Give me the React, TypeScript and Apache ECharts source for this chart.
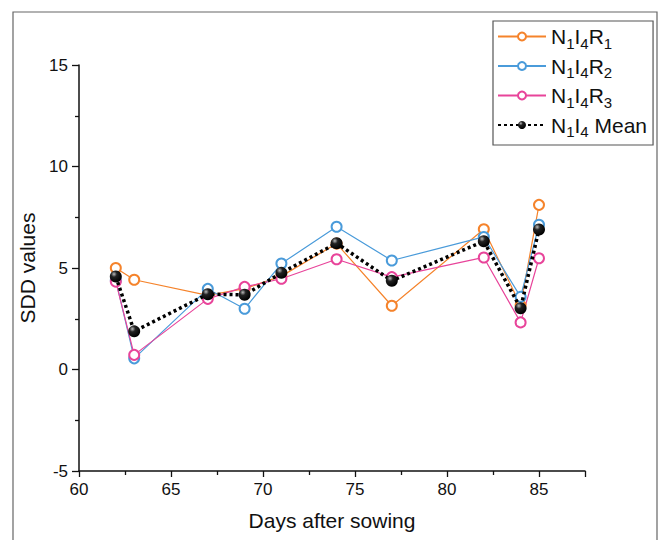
import React, { useEffect, useRef } from "react";
import * as echarts from "echarts";

const days = [62, 63, 67, 69, 71, 74, 77, 82, 84, 85];
const r1 = [5.0, 4.42, 3.65, 3.98, 4.6, 6.2, 3.14, 6.91, 3.16, 8.11];
const r2 = [4.4, 0.55, 3.97, 2.99, 5.22, 7.03, 5.37, 6.53, 3.58, 7.13];
const r3 = [4.33, 0.72, 3.48, 4.07, 4.47, 5.43, 4.55, 5.52, 2.32, 5.48];
const mean = [4.58, 1.88, 3.71, 3.68, 4.76, 6.22, 4.37, 6.32, 3.02, 6.9];
const seriesNames = ["N1I4R1", "N1I4R2", "N1I4R3", "N1I4 Mean"];
const legendRich = [
  "N{s|1}I{s|4}R{s|1}",
  "N{s|1}I{s|4}R{s|2}",
  "N{s|1}I{s|4}R{s|3}",
  "N{s|1}I{s|4} Mean",
];

const pairs = (ys: number[]) => days.map((d, i) => [d, ys[i]]);

export default function App() {
  const ref = useRef<HTMLDivElement>(null);
  useEffect(() => {
    const chart = echarts.init(ref.current!, undefined, { renderer: "svg" });
    const font = "Liberation Sans, Arial, sans-serif";
    const hollow = (name: string, color: string, ys: number[]) => ({
      name,
      type: "line",
      data: pairs(ys),
      symbol: "emptyCircle",
      symbolSize: 10,
      lineStyle: { color, width: 1.2 },
      itemStyle: { color, borderColor: color, borderWidth: 1.5 },
      z: 2,
    });
    chart.setOption({
      animation: false,
      backgroundColor: "#fff",
      textStyle: { fontFamily: font },
      graphic: [
        {
          type: "rect",
          shape: { x: 13, y: 12, width: 644, height: 560 },
          style: { fill: "none", stroke: "#666", lineWidth: 1.2 },
          silent: true,
        },
      ],
      grid: { left: 79, right: 77, top: 65, bottom: 69 },
      legend: {
        orient: "vertical",
        left: 493,
        top: 21,
        padding: [5, 6, 6, 4],
        itemGap: 5,
        itemWidth: 48,
        itemHeight: 10,
        borderColor: "#555",
        borderWidth: 1.2,
        backgroundColor: "#fff",
        data: seriesNames,
        formatter: (n: string) => legendRich[seriesNames.indexOf(n)],
        textStyle: {
          fontFamily: font,
          fontSize: 21,
          color: "#111",
          rich: {
            s: { fontSize: 15, padding: [13, 0, 0, 0], fontFamily: font, color: "#111" },
          },
        },
      },
      xAxis: {
        type: "value",
        min: 60,
        max: 87.5,
        interval: 5,
        name: "Days after sowing",
        nameLocation: "middle",
        nameGap: 39,
        nameTextStyle: { fontSize: 21, color: "#111", fontFamily: font },
        axisLine: { show: true, onZero: false, lineStyle: { color: "#111", width: 1.5 } },
        axisTick: { show: true, length: 6, lineStyle: { color: "#111", width: 1.3 } },
        minorTick: { show: true, splitNumber: 2, length: 4, lineStyle: { color: "#111", width: 1.3 } },
        axisLabel: { fontSize: 17, color: "#111", margin: 10, fontFamily: font, showMaxLabel: false },
        splitLine: { show: false },
      },
      yAxis: {
        type: "value",
        min: -5,
        max: 15,
        interval: 5,
        name: "SDD values",
        nameLocation: "middle",
        nameGap: 36,
        nameTextStyle: { fontSize: 21, color: "#111", fontFamily: font },
        axisLine: { show: true, onZero: false, lineStyle: { color: "#111", width: 1.5 } },
        axisTick: { show: true, length: 7, lineStyle: { color: "#111", width: 1.3 } },
        minorTick: { show: true, splitNumber: 2, length: 4, lineStyle: { color: "#111", width: 1.3 } },
        axisLabel: { fontSize: 17, color: "#111", margin: 11, fontFamily: font },
        splitLine: { show: false },
      },
      series: [
        hollow(seriesNames[0], "#F5832B", r1),
        hollow(seriesNames[1], "#4A9BDA", r2),
        hollow(seriesNames[2], "#E8449A", r3),
        {
          name: seriesNames[3],
          type: "line",
          data: pairs(mean),
          symbol: "circle",
          symbolSize: 12,
          lineStyle: { color: "#000", width: 3.5, type: [3, 3] },
          itemStyle: {
            color: new echarts.graphic.RadialGradient(0.35, 0.3, 0.7, [
              { offset: 0, color: "#bbb" },
              { offset: 0.35, color: "#222" },
              { offset: 1, color: "#000" },
            ]),
            borderWidth: 0,
          },
          z: 3,
        },
      ],
    });
    return () => chart.dispose();
  }, []);
  return (
    <div
      ref={ref}
      style={{ position: "fixed", left: 0, top: 0, width: 662, height: 540 }}
    />
  );
}
